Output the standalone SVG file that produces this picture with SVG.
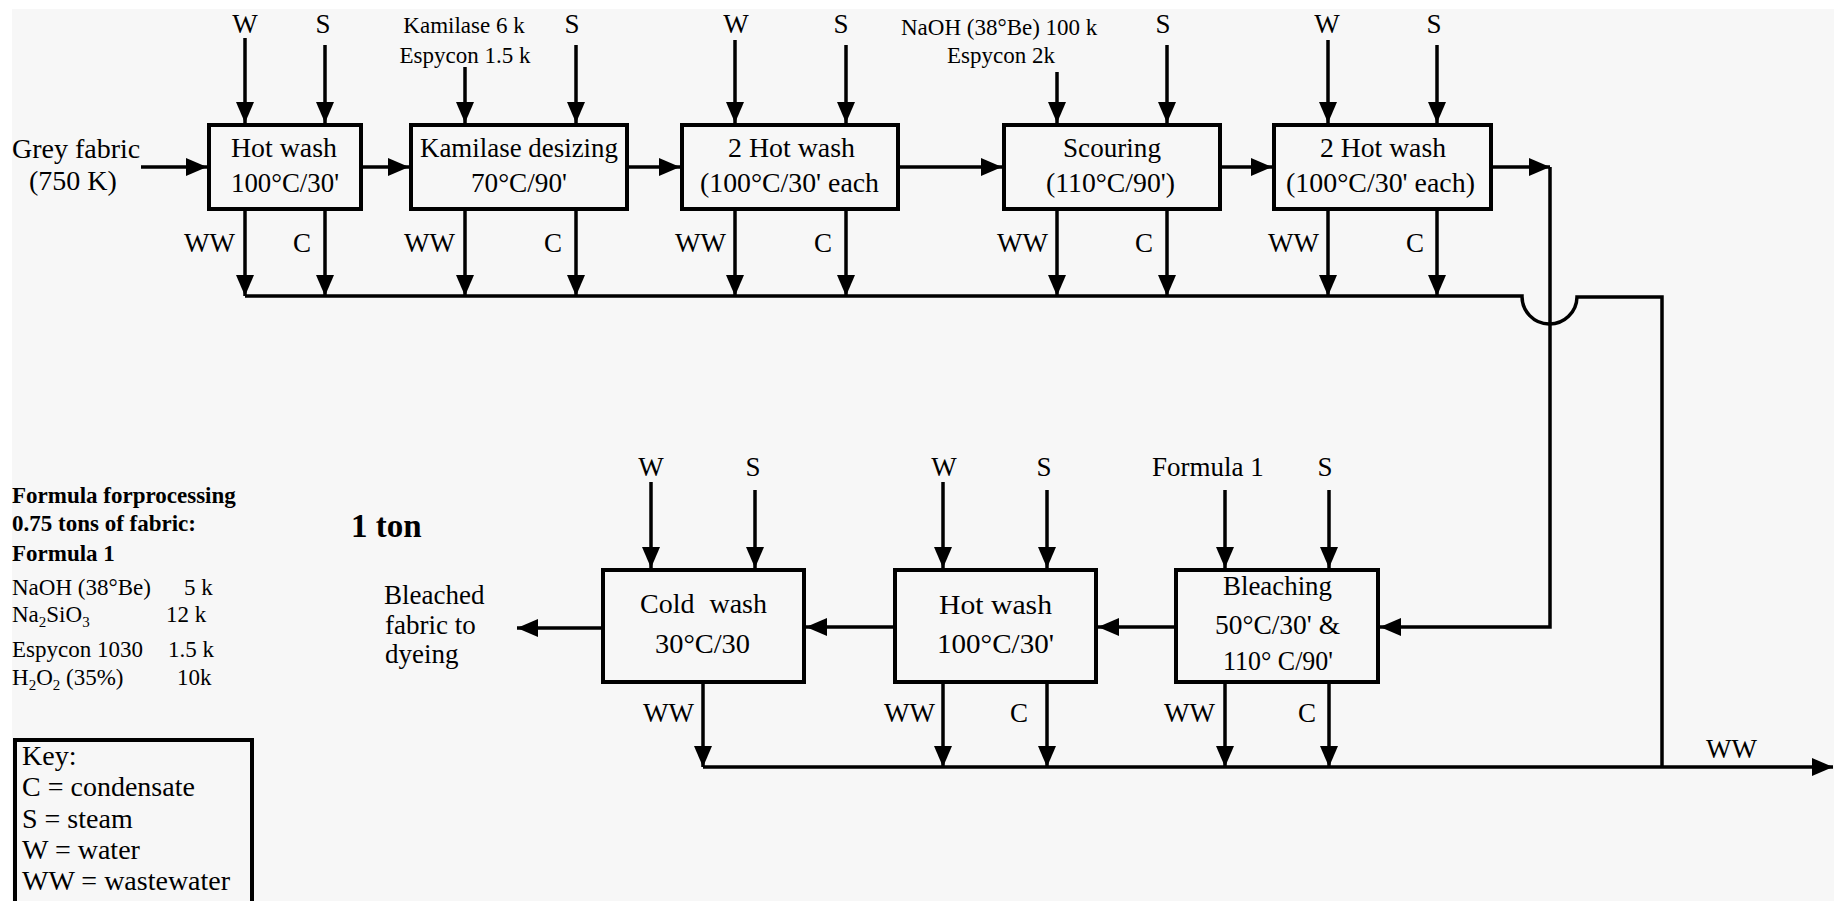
<svg xmlns="http://www.w3.org/2000/svg" width="1834" height="901" viewBox="0 0 1834 901">
<defs>
<marker id="ah" markerUnits="userSpaceOnUse" markerWidth="22" markerHeight="20" refX="21" refY="9" orient="auto">
<path d="M0,0 L21,9 L0,18 z" fill="#000"/>
</marker>
<style>
.t{font-family:"Liberation Serif","Times New Roman",serif;fill:#000}
.b{font-weight:bold}
.f27{font-size:27px}
.f23{font-size:23px}
.f28{font-size:28px}
.m{text-anchor:middle}
.e{text-anchor:end}
.box{fill:none;stroke:#000;stroke-width:4}
.ln{fill:none;stroke:#000;stroke-width:3.5}
.ar{marker-end:url(#ah)}
</style>
</defs>
<rect x="0" y="0" width="1834" height="901" fill="#ffffff"/>
<rect x="12" y="9" width="1822" height="892" fill="#f7f7f7"/>

<g id="connectors">
<!-- main flow upper -->
<path class="ln ar" d="M141,167 H207"/>
<path class="ln ar" d="M363,167 H409"/>
<path class="ln ar" d="M629,167 H680"/>
<path class="ln ar" d="M900,167 H1002"/>
<path class="ln ar" d="M1222,167 H1272"/>
<path class="ln ar" d="M1493,167 H1550"/>
<path class="ln ar" d="M1550,167 V627 H1380"/>
<!-- main flow lower -->
<path class="ln ar" d="M1174,627 H1098"/>
<path class="ln ar" d="M893,627 H806"/>
<path class="ln ar" d="M601,628 H517"/>
<!-- upper inputs -->
<path class="ln ar" d="M245,38 V123"/>
<path class="ln ar" d="M325,45 V123"/>
<path class="ln ar" d="M465,67 V123"/>
<path class="ln ar" d="M576,45 V123"/>
<path class="ln ar" d="M735,40 V123"/>
<path class="ln ar" d="M846,45 V123"/>
<path class="ln ar" d="M1057,72 V123"/>
<path class="ln ar" d="M1167,45 V123"/>
<path class="ln ar" d="M1328,40 V123"/>
<path class="ln ar" d="M1437,45 V123"/>
<!-- upper outputs -->
<path class="ln ar" d="M245,211 V296"/>
<path class="ln ar" d="M325,211 V296"/>
<path class="ln ar" d="M465,211 V296"/>
<path class="ln ar" d="M576,211 V296"/>
<path class="ln ar" d="M735,211 V296"/>
<path class="ln ar" d="M846,211 V296"/>
<path class="ln ar" d="M1057,211 V296"/>
<path class="ln ar" d="M1167,211 V296"/>
<path class="ln ar" d="M1328,211 V296"/>
<path class="ln ar" d="M1437,211 V296"/>
<!-- upper wastewater header with bridge -->
<path class="ln" d="M245,296 H1522 A27.5,27.5 0 0 0 1577,297 H1662 V767"/>
<!-- lower inputs -->
<path class="ln ar" d="M651,482 V568"/>
<path class="ln ar" d="M755,490 V568"/>
<path class="ln ar" d="M943,482 V568"/>
<path class="ln ar" d="M1047,490 V568"/>
<path class="ln ar" d="M1225,490 V568"/>
<path class="ln ar" d="M1329,490 V568"/>
<!-- lower outputs -->
<path class="ln ar" d="M703,684 V767"/>
<path class="ln ar" d="M943,684 V767"/>
<path class="ln ar" d="M1047,684 V767"/>
<path class="ln ar" d="M1225,684 V767"/>
<path class="ln ar" d="M1329,684 V767"/>
<!-- final wastewater -->
<path class="ln ar" d="M703,767 H1833"/>
</g>

<g id="grey-fabric">
<text class="t f28" x="12" y="158">Grey fabric</text>
<text class="t f28" x="29" y="190">(750 K)</text>
</g>

<g id="hot-wash-1">
<rect class="box" x="209" y="125" width="152" height="84"/>
<text class="t f27" x="231" y="157" textLength="106" lengthAdjust="spacingAndGlyphs">Hot wash</text>
<text class="t f27" x="231" y="192" textLength="108" lengthAdjust="spacingAndGlyphs">100°C/30'</text>
<text class="t f27 m" x="245" y="33">W</text>
<text class="t f27 m" x="323" y="33">S</text>
<text class="t f27 e" x="235" y="252">WW</text>
<text class="t f27 e" x="311" y="252">C</text>
</g>

<g id="kamilase-desizing">
<rect class="box" x="411" y="125" width="216" height="84"/>
<text class="t f27" x="420" y="157" textLength="198" lengthAdjust="spacingAndGlyphs">Kamilase desizing</text>
<text class="t f27" x="471" y="192" textLength="96" lengthAdjust="spacingAndGlyphs">70°C/90'</text>
<text class="t f23 m" x="464" y="33">Kamilase 6 k</text>
<text class="t f23 m" x="465" y="63">Espycon 1.5 k</text>
<text class="t f27 m" x="572" y="33">S</text>
<text class="t f27 e" x="455" y="252">WW</text>
<text class="t f27 e" x="562" y="252">C</text>
</g>

<g id="hot-wash-2">
<rect class="box" x="682" y="125" width="216" height="84"/>
<text class="t f27" x="728" y="157" textLength="127" lengthAdjust="spacingAndGlyphs">2 Hot wash</text>
<text class="t f27" x="700" y="192" textLength="179" lengthAdjust="spacingAndGlyphs">(100°C/30' each</text>
<text class="t f27 m" x="736" y="33">W</text>
<text class="t f27 m" x="841" y="33">S</text>
<text class="t f27 e" x="726" y="252">WW</text>
<text class="t f27 e" x="832" y="252">C</text>
</g>

<g id="scouring">
<rect class="box" x="1004" y="125" width="216" height="84"/>
<text class="t f27" x="1063" y="157" textLength="98" lengthAdjust="spacingAndGlyphs">Scouring</text>
<text class="t f27" x="1046" y="192" textLength="129" lengthAdjust="spacingAndGlyphs">(110°C/90')</text>
<text class="t f23" x="901" y="35">NaOH (38°Be) 100 k</text>
<text class="t f23" x="947" y="63">Espycon 2k</text>
<text class="t f27 m" x="1163" y="33">S</text>
<text class="t f27 e" x="1048" y="252">WW</text>
<text class="t f27 e" x="1153" y="252">C</text>
</g>

<g id="hot-wash-3">
<rect class="box" x="1274" y="125" width="217" height="84"/>
<text class="t f27" x="1320" y="157" textLength="126" lengthAdjust="spacingAndGlyphs">2 Hot wash</text>
<text class="t f27" x="1286" y="192" textLength="189" lengthAdjust="spacingAndGlyphs">(100°C/30' each)</text>
<text class="t f27 m" x="1327" y="33">W</text>
<text class="t f27 m" x="1434" y="33">S</text>
<text class="t f27 e" x="1319" y="252">WW</text>
<text class="t f27 e" x="1424" y="252">C</text>
</g>

<g id="bleaching">
<rect class="box" x="1176" y="570" width="202" height="112"/>
<text class="t f27" x="1223" y="595" textLength="109" lengthAdjust="spacingAndGlyphs">Bleaching</text>
<text class="t f27" x="1215" y="634" textLength="125" lengthAdjust="spacingAndGlyphs">50°C/30' &amp;</text>
<text class="t f27" x="1223" y="670" textLength="110" lengthAdjust="spacingAndGlyphs">110° C/90'</text>
<text class="t f27" x="1152" y="476">Formula 1</text>
<text class="t f27 m" x="1325" y="476">S</text>
<text class="t f27 e" x="1215" y="722">WW</text>
<text class="t f27 e" x="1316" y="722">C</text>
</g>

<g id="hot-wash-4">
<rect class="box" x="895" y="570" width="201" height="112"/>
<text class="t f28" x="939" y="614" textLength="113" lengthAdjust="spacingAndGlyphs">Hot wash</text>
<text class="t f28" x="937" y="653" textLength="117" lengthAdjust="spacingAndGlyphs">100°C/30'</text>
<text class="t f27 m" x="944" y="476">W</text>
<text class="t f27 m" x="1044" y="476">S</text>
<text class="t f27 e" x="935" y="722">WW</text>
<text class="t f27 e" x="1028" y="722">C</text>
</g>

<g id="cold-wash">
<rect class="box" x="603" y="570" width="201" height="112"/>
<text class="t f28" x="640" y="613" word-spacing="8" textLength="127" lengthAdjust="spacingAndGlyphs">Cold wash</text>
<text class="t f28" x="655" y="653" textLength="95" lengthAdjust="spacingAndGlyphs">30°C/30</text>
<text class="t f27 m" x="651" y="476">W</text>
<text class="t f27 m" x="753" y="476">S</text>
<text class="t f27 e" x="694" y="722">WW</text>
</g>

<g id="bleached-fabric">
<text class="t f27" x="384" y="604">Bleached</text>
<text class="t f27" x="385" y="634">fabric to</text>
<text class="t f27" x="385" y="663">dyeing</text>
</g>

<g id="wastewater-out">
<text class="t f27" x="1706" y="758">WW</text>
</g>

<g id="one-ton">
<text class="t b" font-size="33" x="351" y="537">1 ton</text>
</g>

<g id="formula">
<text class="t b f23" x="12" y="503">Formula forprocessing</text>
<text class="t b f23" x="12" y="531">0.75 tons of fabric:</text>
<text class="t b f23" x="12" y="561">Formula 1</text>
<text class="t f23" x="12" y="595">NaOH (38°Be)</text>
<text class="t f23" x="184" y="595">5 k</text>
<text class="t f23" x="12" y="622">Na<tspan font-size="15" dy="5">2</tspan><tspan dy="-5">SiO</tspan><tspan font-size="15" dy="5">3</tspan></text>
<text class="t f23" x="166" y="622">12 k</text>
<text class="t f23" x="12" y="657">Espycon 1030</text>
<text class="t f23" x="168" y="657">1.5 k</text>
<text class="t f23" x="12" y="685">H<tspan font-size="15" dy="5">2</tspan><tspan dy="-5">O</tspan><tspan font-size="15" dy="5">2</tspan><tspan dy="-5"> (35%)</tspan></text>
<text class="t f23" x="177" y="685">10k</text>
</g>

<g id="key">
<rect class="box" x="15" y="740" width="237" height="200"/>
<text class="t f28" x="22" y="765">Key:</text>
<text class="t f28" x="22" y="796">C = condensate</text>
<text class="t f28" x="22" y="828">S = steam</text>
<text class="t f28" x="22" y="859">W = water</text>
<text class="t f28" x="22" y="890">WW = wastewater</text>
</g>
</svg>
